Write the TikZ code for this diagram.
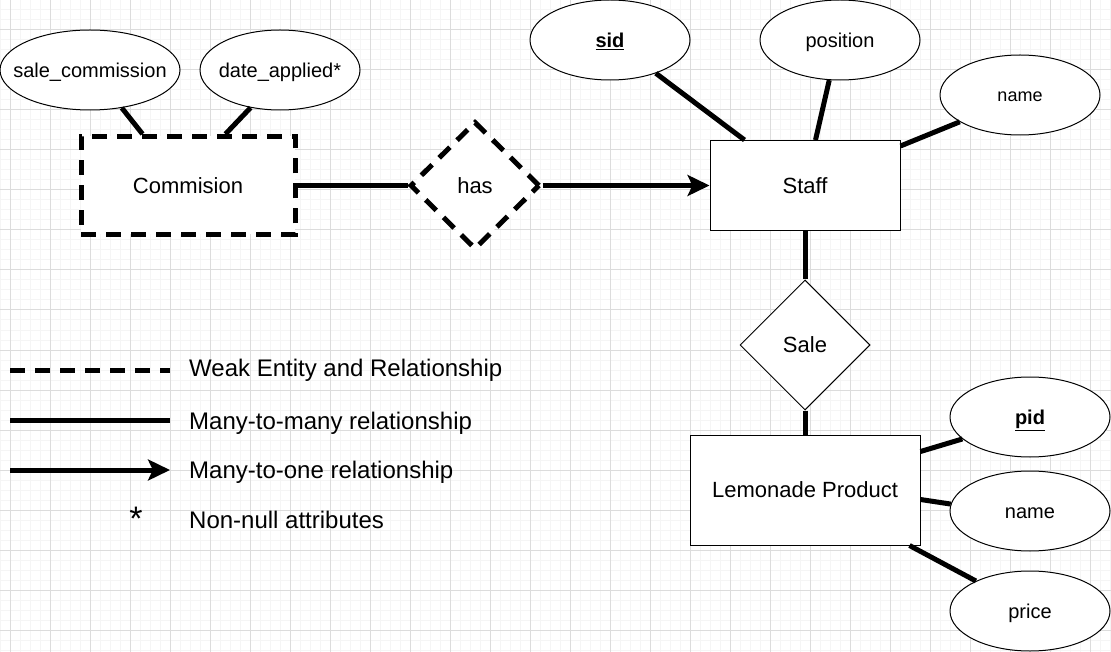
\documentclass[tikz,border=0pt]{standalone}
\usepackage{fontspec}
\setmainfont{Liberation Sans}
\usetikzlibrary{shapes.geometric,arrows.meta,backgrounds,calc}
\definecolor{minorgrid}{HTML}{F5F5F5}
\definecolor{majorgrid}{HTML}{DCDCDC}
\begin{document}
\begin{tikzpicture}[x=1pt,y=-1pt,
  fs/.style={font=\fontsize{#1}{#1}\selectfont},
  attr/.style={ellipse,draw,fill=white,line width=1pt,inner sep=0pt,
    minimum width=160pt,minimum height=80pt,text height=14.3pt,text depth=0pt,fs=20},
  ent/.style={rectangle,draw,fill=white,line width=1pt,inner sep=0pt,
    text height=15.8pt,text depth=0pt,fs=22},
  rel/.style={diamond,draw,fill=white,line width=1pt,inner sep=0pt,
    text height=15.8pt,text depth=0pt,fs=22},
  weakline/.style={line width=5pt,dash pattern=on 15pt off 10pt},
  conn/.style={line width=5pt},
  arrowconn/.style={line width=5pt,-{Stealth[length=22pt,width=21pt,inset=5pt]}},
  legendtext/.style={anchor=base west,inner sep=0pt,fs=24}
]
\useasboundingbox (0,0) rectangle (1111,652);

% ---------- shapes ----------
\node[attr,minimum width=180pt] (sc) at (90,70) {\makebox[0pt]{sale\_commission}};
\node[attr] (da) at (280,70) {\makebox[0pt]{date\_applied*}};
\node[ent,weakline,minimum width=214pt,minimum height=98pt] (com) at (188,185.5) {Commision};
\node[rel,weakline,minimum width=130pt,minimum height=128pt] (has) at (475,185.5) {has};

\node[ent,minimum width=190pt,minimum height=90pt] (staff) at (805,185.5) {Staff};
\node[attr] (sid) at (610,40) {\makebox[0pt]{\bfseries\underline{sid}}};
\node[attr] (pos) at (840,40) {\makebox[0pt]{position}};
\node[attr,fs=18,text height=13pt] (sname) at (1020,95) {\makebox[0pt]{name}};

\node[rel,minimum width=130pt,minimum height=130pt] (sale) at (805,345) {Sale};
\node[ent,minimum width=230pt,minimum height=110pt] (lemon) at (805,490) {Lemonade Product};
\node[attr] (pid) at (1030,417) {\makebox[0pt]{\bfseries\underline{pid}}};
\node[attr] (lname) at (1030,511) {\makebox[0pt]{name}};
\node[attr] (price) at (1030,611) {\makebox[0pt]{price}};

% ---------- connectors ----------
\draw[conn] (sc.-50) -- ([xshift=64pt]com.north west);
\draw[conn] (da.-128) -- ([xshift=147pt]com.north west);
\draw[conn] (com.east) -- (has.west);
\draw[arrowconn] (has.east) -- (staff.west);
\draw[conn] (sid.-36) -- ([xshift=35pt]staff.north west);
\draw[conn] (pos.-105) -- ([xshift=106pt]staff.north west);
\draw[conn] (sname.204) -- ([yshift=-6pt]staff.north east);
\draw[conn] (staff.south) -- (sale.north);
\draw[conn] (sale.south) -- (lemon.north);
\draw[conn] (pid.198) -- ([yshift=-17pt]lemon.north east);
\draw[conn] (lname.175) -- ([yshift=-65pt]lemon.north east);
\draw[conn] (price.151) -- ([xshift=-11pt]lemon.south east);

% ---------- legend ----------
\coordinate (l1a) at (10,370.5); \coordinate (l1b) at (170,370.5);
\coordinate (l2a) at (10,420);   \coordinate (l2b) at (170,420);
\coordinate (l3a) at (10,470);   \coordinate (l3b) at (170,470);
\draw[weakline] (l1a) -- (l1b);
\draw[conn] (l2a) -- (l2b);
\draw[arrowconn] (l3a) -- (l3b);
\node[legendtext] (t1) at (189,376) {Weak Entity and Relationship};
\node[legendtext] (t2) at (189,429.3) {Many-to-many relationship};
\node[legendtext] (t3) at (189,478.3) {Many-to-one relationship};
\node[legendtext] (t4) at (189,528.3) {Non-null attributes};
\node[anchor=north,inner sep=0pt,fs=34] (ast) at (136,507) {*};

% ---------- background grid ----------
\begin{scope}[on background layer]
  \fill[white] (0,0) rectangle (1111,652);
  \foreach \x in {0,10,...,1110} \draw[minorgrid,line width=1pt] (\x,0) -- (\x,652);
  \foreach \y in {0,10,...,650} \draw[minorgrid,line width=1pt] (0,\y) -- (1111,\y);
  \foreach \x in {10,50,...,1090} \draw[majorgrid,line width=1pt] (\x,0) -- (\x,652);
  \foreach \y in {30,70,...,630} \draw[majorgrid,line width=1pt] (0,\y) -- (1111,\y);
\end{scope}
\end{tikzpicture}
\end{document}
